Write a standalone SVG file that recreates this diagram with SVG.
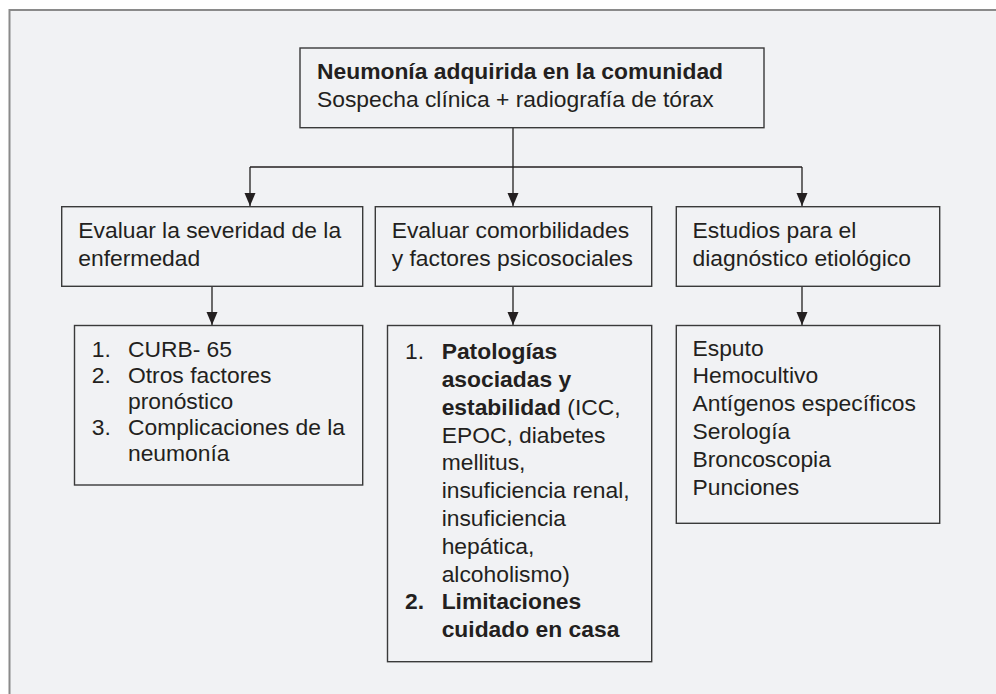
<svg xmlns="http://www.w3.org/2000/svg" width="996" height="694" viewBox="0 0 996 694">
<style>
.box{fill:none;stroke:#3a3a3a;stroke-width:1.4}
.t{font-family:"Liberation Sans",Arial,sans-serif;font-size:21.5px;fill:#231f20}
.b{font-weight:bold}
.con{fill:none;stroke:#231f20;stroke-width:1.3}
</style>
<defs>
<marker id="ah" markerUnits="userSpaceOnUse" markerWidth="13" markerHeight="12" viewBox="0 0 13 12" refX="13" refY="6" orient="auto">
<path d="M0,0.5 L13,6 L0,11.5 z" fill="#231f20"/>
</marker>
</defs>
<rect x="0" y="0" width="996" height="694" fill="#ffffff"/>
<rect x="9.5" y="10" width="990" height="690" fill="#f1f2f4"/>
<path d="M9.5,694 V10 H996" fill="none" stroke="#8a8a8a" stroke-width="2"/>

<g id="connectors">
<path class="con" d="M513,127.7 V167"/>
<path class="con" d="M250,167 H802"/>
<path class="con" d="M250,167 V206" marker-end="url(#ah)"/>
<path class="con" d="M513,167 V206" marker-end="url(#ah)"/>
<path class="con" d="M802,167 V206" marker-end="url(#ah)"/>
<path class="con" d="M212,286.3 V325" marker-end="url(#ah)"/>
<path class="con" d="M513,286.3 V325" marker-end="url(#ah)"/>
<path class="con" d="M802,286.3 V325" marker-end="url(#ah)"/>
</g>

<g id="nac">
<rect class="box" x="300" y="48" width="464" height="79.7"/>
<text class="t" transform="matrix(1.063 0 0 1 317 0)"><tspan class="b" x="0" y="79">Neumonía adquirida en la comunidad</tspan><tspan x="0" y="107">Sospecha clínica + radiografía de tórax</tspan></text>
</g>

<g id="severidad">
<rect class="box" x="61.7" y="206.7" width="301" height="79.6"/>
<text class="t" transform="matrix(1.063 0 0 1 78.3 0)"><tspan x="0" y="237.7">Evaluar la severidad de la</tspan><tspan x="0" y="265.7">enfermedad</tspan></text>
</g>

<g id="comorbilidades">
<rect class="box" x="375.3" y="206.7" width="276.4" height="79.6"/>
<text class="t" transform="matrix(1.063 0 0 1 391.7 0)"><tspan x="0" y="237.7">Evaluar comorbilidades</tspan><tspan x="0" y="265.7">y factores psicosociales</tspan></text>
</g>

<g id="estudios">
<rect class="box" x="676.3" y="206.7" width="263.4" height="79.6"/>
<text class="t" transform="matrix(1.063 0 0 1 692.5 0)"><tspan x="0" y="237.7">Estudios para el</tspan><tspan x="0" y="265.7">diagnóstico etiológico</tspan></text>
</g>

<g id="severidad-items">
<rect class="box" x="74.5" y="325.5" width="288.2" height="159.5"/>
<text class="t" transform="matrix(1.063 0 0 1 91.7 0)">
<tspan x="0" y="357.3">1.</tspan><tspan x="34.1" y="357.3">CURB- 65</tspan>
<tspan x="0" y="383.3">2.</tspan><tspan x="34.1" y="383.3">Otros factores</tspan>
<tspan x="34.1" y="409.3">pronóstico</tspan>
<tspan x="0" y="435.3">3.</tspan><tspan x="34.1" y="435.3">Complicaciones de la</tspan>
<tspan x="34.1" y="461.3">neumonía</tspan>
</text>
</g>

<g id="comorbilidades-items">
<rect class="box" x="387.5" y="325.5" width="264.2" height="336.2"/>
<text class="t" transform="matrix(1.063 0 0 1 405 0)">
<tspan x="0" y="359.3">1.</tspan><tspan class="b" x="34.5" y="359.3">Patologías</tspan>
<tspan class="b" x="34.5" y="387.1">asociadas y</tspan>
<tspan class="b" x="34.5" y="414.9">estabilidad</tspan><tspan> (ICC,</tspan>
<tspan x="34.5" y="442.7">EPOC, diabetes</tspan>
<tspan x="34.5" y="470.5">mellitus,</tspan>
<tspan x="34.5" y="498.3">insuficiencia renal,</tspan>
<tspan x="34.5" y="526.1">insuficiencia</tspan>
<tspan x="34.5" y="553.9">hepática,</tspan>
<tspan x="34.5" y="581.7">alcoholismo)</tspan>
<tspan class="b" x="0" y="609.5">2.</tspan><tspan class="b" x="34.5" y="609.5">Limitaciones</tspan>
<tspan class="b" x="34.5" y="637.3">cuidado en casa</tspan>
</text>
</g>

<g id="estudios-items">
<rect class="box" x="676.3" y="325.5" width="263.4" height="197.8"/>
<text class="t" transform="matrix(1.063 0 0 1 692.5 0)">
<tspan x="0" y="355.7">Esputo</tspan>
<tspan x="0" y="383.5">Hemocultivo</tspan>
<tspan x="0" y="411.4">Antígenos específicos</tspan>
<tspan x="0" y="439.2">Serología</tspan>
<tspan x="0" y="467.1">Broncoscopia</tspan>
<tspan x="0" y="495">Punciones</tspan>
</text>
</g>
</svg>
